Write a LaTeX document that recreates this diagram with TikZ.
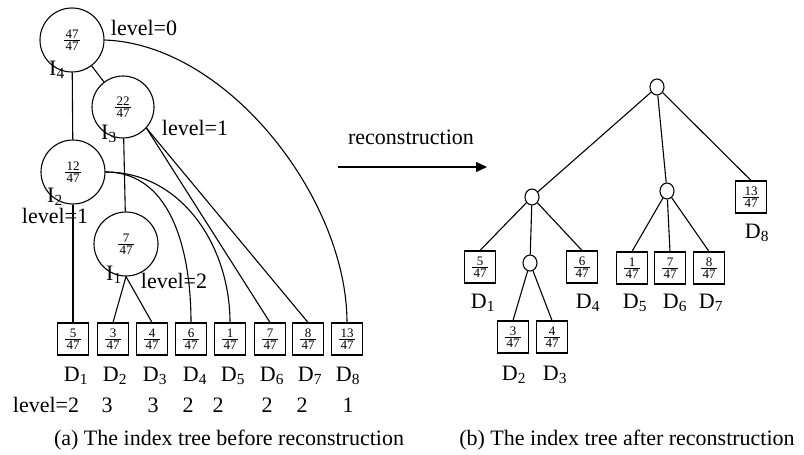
\documentclass[tikz,border=0pt]{standalone}
\usepackage{fontspec}
\setmainfont{Liberation Serif}
\usetikzlibrary{shapes.geometric,arrows.meta}
\newcommand\fr[2]{\vbox{\fontsize{13}{13}\selectfont\offinterlineskip\halign{\hskip1.5pt\hfil##\hfil\hskip1.5pt\cr\vrule height9pt depth0pt width0pt #1\cr\noalign{\kern1.2pt\hrule height .7pt\kern1.2pt}\vrule height9pt depth0pt width0pt #2\cr}}}
\tikzset{
  bigc/.style={circle, draw, line width=1.1pt, minimum size=64pt, inner sep=0pt},
  smallc/.style={ellipse, draw, line width=1.1pt, minimum width=14pt, minimum height=16pt, inner sep=0pt},
  leaf/.style={rectangle, draw, line width=1.1pt, minimum width=31pt, minimum height=32pt, inner sep=0pt},
  lbl/.style={anchor=base, inner sep=0pt, font=\fontsize{22}{26}\selectfont},
  edge/.style={line width=1.1pt},
}
\begin{document}
\begin{tikzpicture}[x=1pt,y=-1pt]
\useasboundingbox (0,0) rectangle (804,455);
% ---------- left tree ----------
\node[bigc] (I4) at (72,40) {\fr{47}{47}};
\node[bigc, minimum size=62pt] (I3) at (123,107) {\fr{22}{47}};
\node[bigc] (I2) at (73,172) {\fr{12}{47}};
\node[bigc] (I1) at (126,244) {\fr{7}{47}};
\node[leaf] (D1) at (73,339) {\fr{5}{47}};
\node[leaf] (D2) at (113,339) {\fr{3}{47}};
\node[leaf] (D3) at (152,339) {\fr{4}{47}};
\node[leaf] (D4) at (191,339) {\fr{6}{47}};
\node[leaf] (D5) at (230,339) {\fr{1}{47}};
\node[leaf] (D6) at (270,339) {\fr{7}{47}};
\node[leaf] (D7) at (308,339) {\fr{8}{47}};
\node[leaf] (D8) at (347,339) {\fr{13}{47}};
\draw[edge] (I4) -- (I2);
\draw[edge] (I4) -- (I3);
\draw[edge] (I4.east) to[out=-2,in=90,looseness=0.85] (D8.north);
\draw[edge] (I3) -- (I1);
\draw[edge] (I3.-42) -- (D6.north);
\draw[edge] (I3.-42) -- (D7.north);
\draw[edge] (I2) -- (D1);
\draw[edge] (I2.east) to[out=0,in=90] (D4.north);
\draw[edge] (I2.east) to[out=0,in=90] (D5.north);
\draw[edge] (I1.south) -- (D2.north);
\draw[edge] (I1.south) -- (D3.north);
% labels
\node[lbl] (l0) at (144,35) {level=0};
\node[lbl] (i4) at (57,75) {I\textsubscript{4}};
\node[lbl] (i3) at (109,139) {I\textsubscript{3}};
\node[lbl] (l1a) at (195,135) {level=1};
\node[lbl] (i2) at (55,202) {I\textsubscript{2}};
\node[lbl] (l1b) at (55,223) {level=1};
\node[lbl] (i1) at (114,280) {I\textsubscript{1}};
\node[lbl] (l2) at (174,288) {level=2};
\node[lbl] (t1) at (76,381) {D\textsubscript{1}};
\node[lbl] (t2) at (115,381) {D\textsubscript{2}};
\node[lbl] (t3) at (155,381) {D\textsubscript{3}};
\node[lbl] (t4) at (195,381) {D\textsubscript{4}};
\node[lbl] (t5) at (233,381) {D\textsubscript{5}};
\node[lbl] (t6) at (272,381) {D\textsubscript{6}};
\node[lbl] (t7) at (310,381) {D\textsubscript{7}};
\node[lbl] (t8) at (348,381) {D\textsubscript{8}};
\node[lbl] (v0) at (46,412) {level=2};
\node[lbl] (v2) at (107,412) {3};
\node[lbl] (v3) at (153,412) {3};
\node[lbl] (v4) at (188,412) {2};
\node[lbl] (v5) at (218,412) {2};
\node[lbl] (v6) at (267,412) {2};
\node[lbl] (v7) at (302,412) {2};
\node[lbl] (v8) at (348,412) {1};
\node[lbl] (capa) at (229,445) {(a) The index tree before reconstruction};
% ---------- arrow ----------
\coordinate (aS) at (338,167);
\coordinate (aE) at (487,167);
\draw[edge, -{Triangle[length=11pt,width=10pt]}] (aS) -- (aE);
\node[lbl] (rec) at (411,144) {reconstruction};
% ---------- right tree ----------
\node[smallc] (R) at (657,87) {};
\node[smallc] (A) at (532,197) {};
\node[smallc] (B) at (667,191) {};
\node[smallc] (C) at (530,263) {};
\node[leaf] (E8) at (751,197) {\fr{13}{47}};
\node[leaf] (E1) at (480,267) {\fr{5}{47}};
\node[leaf] (E4) at (582,267) {\fr{6}{47}};
\node[leaf] (E5) at (632,268) {\fr{1}{47}};
\node[leaf] (E6) at (670,268) {\fr{7}{47}};
\node[leaf] (E7) at (709,268) {\fr{8}{47}};
\node[leaf] (E2) at (513,337) {\fr{3}{47}};
\node[leaf] (E3) at (552,337) {\fr{4}{47}};
\draw[edge] (R) -- (A);
\draw[edge] (R) -- (B);
\draw[edge] (R) -- (E8.north);
\draw[edge] (A) -- (E1.north);
\draw[edge] (A) -- (C);
\draw[edge] (A) -- (E4.north);
\draw[edge] (C) -- (E2.north);
\draw[edge] (C) -- (E3.north);
\draw[edge] (B) -- (E5.north);
\draw[edge] (B) -- (E6.north);
\draw[edge] (B) -- (E7.north);
\node[lbl] (s8) at (757,238) {D\textsubscript{8}};
\node[lbl] (s1) at (483,308) {D\textsubscript{1}};
\node[lbl] (s4) at (588,308) {D\textsubscript{4}};
\node[lbl] (s5) at (635,308) {D\textsubscript{5}};
\node[lbl] (s6) at (675,308) {D\textsubscript{6}};
\node[lbl] (s7) at (711,308) {D\textsubscript{7}};
\node[lbl] (s2) at (514,380) {D\textsubscript{2}};
\node[lbl] (s3) at (555,380) {D\textsubscript{3}};
\node[lbl] (capb) at (627,445) {(b) The index tree after reconstruction};
\end{tikzpicture}
\end{document}
